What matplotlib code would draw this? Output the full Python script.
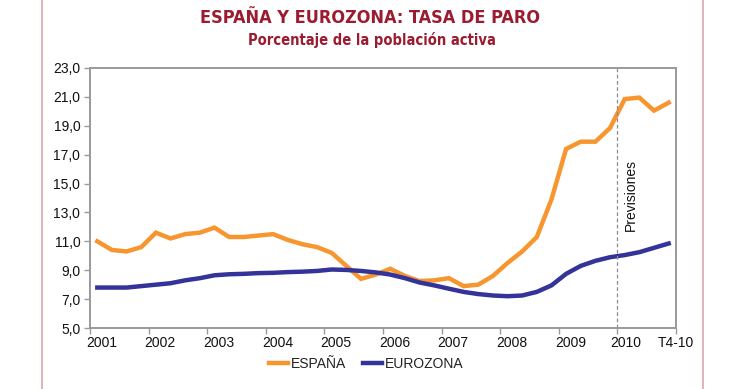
import numpy as np
import matplotlib
matplotlib.use('Agg')
import matplotlib.pyplot as plt
from matplotlib.lines import Line2D

# tasa de paro trimestral, 2001T1 .. 2010T4
ESPANA = [11.0, 10.4, 10.3, 10.6,
          11.6, 11.2, 11.5, 11.6,
          11.95, 11.3, 11.3, 11.4,
          11.5, 11.1, 10.8, 10.6,
          10.2, 9.3, 8.4, 8.7,
          9.1, 8.6, 8.25, 8.3,
          8.45, 7.9, 8.0, 8.6,
          9.5, 10.3, 11.3, 13.9,
          17.4, 17.9, 17.9, 18.85,
          20.85, 20.95, 20.05, 20.6]
EUROZONA = [7.8, 7.8, 7.8, 7.9,
            8.0, 8.1, 8.3, 8.45,
            8.65, 8.72, 8.75, 8.8,
            8.82, 8.87, 8.9, 8.95,
            9.05, 9.02, 8.95, 8.85,
            8.7, 8.45, 8.15, 7.95,
            7.72, 7.5, 7.35, 7.25,
            7.2, 7.25, 7.5, 7.95,
            8.75, 9.3, 9.65, 9.9,
            10.05, 10.25, 10.55, 10.85]
X_LABELS = ['2001', '2002', '2003', '2004', '2005', '2006',
            '2007', '2008', '2009', '2010', 'T4-10']
Y_TICKS = np.arange(5, 23.1, 2)

C_ES = '#F7962E'
C_EZ = '#333399'
C_TITLE = '#9B1B30'
C_AXIS = '#9a9a9a'

plt.rcParams['font.family'] = ['Liberation Sans', 'DejaVu Sans']

fig = plt.figure(figsize=(7.4, 3.89), dpi=100)
fig.patch.set_facecolor('white')
ax = fig.add_axes([0.1216, 0.1568, 0.7919, 0.6684])

x = (np.arange(len(ESPANA)) + 0.5) / 4.0
ax.plot(x, ESPANA, color=C_ES, lw=3.2, solid_joinstyle='miter', label='ESPAÑA')
ax.plot(x, EUROZONA, color=C_EZ, lw=3.2, label='EUROZONA')

ax.axvline(9.0, color='#8a8a99', lw=0.9, ls=(0, (3, 2)))
ax.text(9.23, 14.2, 'Previsiones', rotation=90, ha='center', va='center',
        fontsize=10, color='#111111')

ax.set_xlim(0, 10)
ax.set_ylim(5, 23)
ax.set_yticks(Y_TICKS)
ax.set_yticklabels([f'{v:.1f}'.replace('.', ',') for v in Y_TICKS])

# marcas de año en los límites, etiquetas algo desplazadas (estilo Excel)
ax.xaxis.set_remove_overlapping_locs(False)
ax.set_xticks(np.arange(0, 11))
ax.set_xticklabels([''] * 11)
lab_pos = [i + 0.2 for i in range(9)] + [9.14, 10.0]
ax.set_xticks(lab_pos, minor=True)
ax.set_xticklabels(X_LABELS, minor=True)
ax.tick_params(axis='x', which='minor', length=0, pad=6, labelsize=10, colors='#111111')
ax.tick_params(axis='x', which='major', length=4, width=1, color=C_AXIS, direction='out')
ax.tick_params(axis='y', length=4, width=1, color=C_AXIS, direction='out',
               labelsize=10, labelcolor='#111111', pad=3)

for s in ax.spines.values():
    s.set_color(C_AXIS)
    s.set_linewidth(1.4)

fig.text(0.5, 0.955, 'ESPAÑA Y EUROZONA: TASA DE PARO', ha='center', va='center',
         fontsize=13, fontweight='bold', color=C_TITLE, fontstretch='condensed',
         family=['DejaVu Sans'])
fig.text(0.503, 0.897, 'Porcentaje de la población activa', ha='center', va='center',
         fontsize=10.5, fontweight='bold', color=C_TITLE, fontstretch='condensed',
         family=['DejaVu Sans'])

leg = fig.legend(loc='center', bbox_to_anchor=(0.495, 0.064), ncol=2, frameon=False,
                 fontsize=10, handlelength=1.4, handletextpad=0.2, columnspacing=1.2)
for t in leg.get_texts():
    t.set_color('#222222')

# marco rosado lateral
for xf in (42 / 740, 703 / 740):
    fig.add_artist(Line2D([xf, xf], [0, 1], color='#D9A6AE', lw=1.2,
                          transform=fig.transFigure))

fig.savefig('out.png', dpi=100, facecolor='white')
